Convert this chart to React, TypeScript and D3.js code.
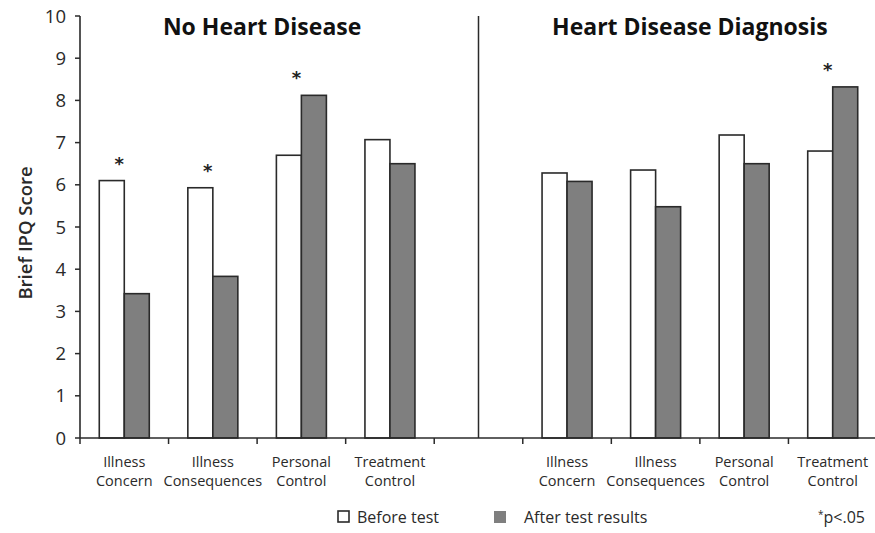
import React from 'react'
import * as d3 from 'd3';

const groups = ['No Heart Disease', 'Heart Disease Diagnosis'];
const categories = [['Illness', 'Concern'], ['Illness', 'Consequences'], ['Personal', 'Control'], ['Treatment', 'Control']];
const beforeTest = [[6.1, 5.93, 6.7, 7.07], [6.28, 6.35, 7.18, 6.8]];
const afterTest = [[3.42, 3.83, 8.12, 6.5], [6.08, 5.48, 6.5, 8.32]];
const significant = [[true, true, true, false], [false, false, false, true]];
const yTicks = [0, 1, 2, 3, 4, 5, 6, 7, 8, 9, 10];
const seriesNames = ['Before test', 'After test results'];

const FONT = '"Open Sans", Lato, sans-serif';
const INK = '#2a2a2a';
const GRAY = '#7f7f7f';

const App = () => {
  const width = 875, height = 533;
  const left = 80, top = 16, bottom = 438, right = 877;

  const slots: string[] = [];
  groups.forEach((g, gi) => {
    categories.forEach((c, ci) => slots.push(`${gi}-${ci}`));
    if (gi === 0) slots.push('gap');
  });

  const x = d3.scaleBand().domain(slots).range([left, right]).padding(0);
  const y = d3.scaleLinear().domain([0, 10]).range([bottom, top]);
  const bw = x.bandwidth();
  const inner = d3.scaleBand().domain(['before', 'after']).range([bw / 2 - 25, bw / 2 + 25]).padding(0);

  const gapX = (x('gap') as number) + bw / 2;
  const groupCenter = (gi: number) => {
    const a = x(`${gi}-0`) as number;
    const b = (x(`${gi}-3`) as number) + bw;
    return (a + b) / 2;
  };

  return (
    <svg width={width} height={height} style={{ position: 'absolute', left: 0, top: 0, background: '#fff' }} fontFamily={FONT}>
      {/* bars */}
      {groups.map((g, gi) => categories.map((c, ci) => {
        const x0 = x(`${gi}-${ci}`) as number;
        const b = beforeTest[gi][ci], a = afterTest[gi][ci];
        return (
          <g key={`${gi}-${ci}`}>
            <rect x={x0 + (inner('before') as number)} y={y(b)} width={inner.bandwidth()} height={y(0) - y(b)}
              fill='#fff' stroke={INK} strokeWidth={1.6} />
            <rect x={x0 + (inner('after') as number)} y={y(a)} width={inner.bandwidth()} height={y(0) - y(a)}
              fill={GRAY} stroke={INK} strokeWidth={1.6} />
            {significant[gi][ci] &&
              <text x={x0 + bw / 2 - 5} y={y(Math.max(a, b)) - 11} textAnchor='middle' fontSize={18} fontWeight='bold'
                fontFamily='"DejaVu Sans", sans-serif' fill='#222'>*</text>}
            <text x={x0 + bw / 2} y={467} textAnchor='middle' fontSize={14.5} fill={INK}>{c[0]}</text>
            <text x={x0 + bw / 2} y={486} textAnchor='middle' fontSize={14.5} fill={INK}>{c[1]}</text>
          </g>
        );
      }))}

      {/* divider */}
      <line x1={gapX} x2={gapX} y1={top} y2={bottom} stroke={INK} strokeWidth={1.5} />

      {/* y axis */}
      <line x1={left} x2={left} y1={top} y2={bottom} stroke={INK} strokeWidth={1.6} />
      {yTicks.map(t => (
        <g key={t}>
          <line x1={left - 5} x2={left} y1={y(t)} y2={y(t)} stroke={INK} strokeWidth={1.5} />
          <text x={left - 14} y={y(t) + 6.5} textAnchor='end' fontSize={18.5} fill={INK}>{t}</text>
        </g>
      ))}

      {/* x axis */}
      <line x1={left} x2={right} y1={bottom} y2={bottom} stroke={INK} strokeWidth={1.6} />
      {slots.map(s => (
        <line key={s} x1={x(s) as number} x2={x(s) as number} y1={bottom} y2={bottom + 6} stroke={INK} strokeWidth={1.5} />
      ))}

      {/* group titles */}
      {groups.map((g, gi) => (
        <text key={g} x={groupCenter(gi) + (gi === 0 ? 5 : -10)} y={35} textAnchor='middle' fontSize={23} fontWeight='bold' fill='#111'>{g}</text>
      ))}

      {/* y label */}
      <text transform={`translate(32,233) rotate(-90)`} textAnchor='middle' fontSize={18.5} fontWeight={600} fill={INK}>Brief IPQ Score</text>

      {/* legend */}
      <rect x={338} y={511} width={11} height={11} fill='#fff' stroke={INK} strokeWidth={1.6} />
      <text x={357} y={523} fontSize={16} fill={INK}>{seriesNames[0]}</text>
      <rect x={494} y={511} width={12} height={12} fill={GRAY} />
      <text x={524} y={523} fontSize={16} fill={INK}>{seriesNames[1]}</text>
      <text x={818} y={523} fontSize={16} fill={INK}><tspan fontSize={10} dy={-5}>*</tspan><tspan dy={5}>p&lt;.05</tspan></text>
    </svg>
  );
};

export default App
